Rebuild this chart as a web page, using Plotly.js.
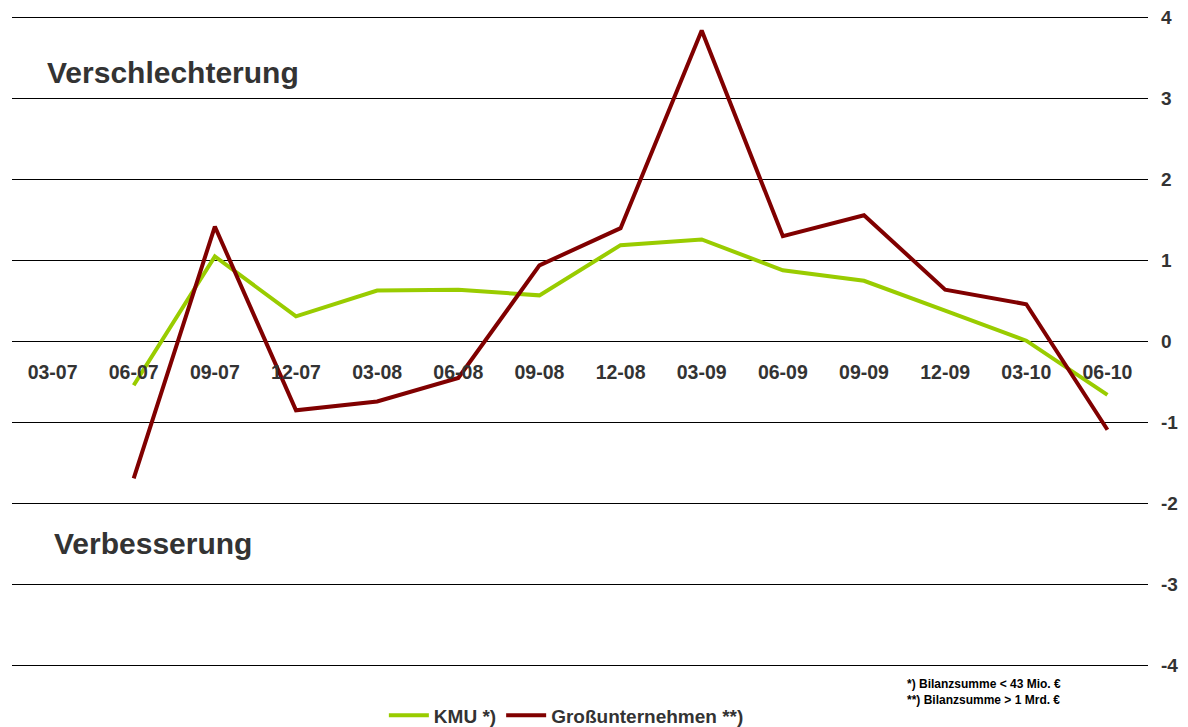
<!DOCTYPE html>
<html>
<head>
<meta charset="utf-8">
<script src="https://cdn.plot.ly/plotly-3.0.1.min.js"></script>
<style>html,body{margin:0;padding:0;background:#fff;}#chart{width:1188px;height:727px;}</style>
</head>
<body>
<div id="chart"></div>
<script>
const quarters = ["03-07","06-07","09-07","12-07","03-08","06-08","09-08","12-08","03-09","06-09","09-09","12-09","03-10","06-10"];
const kmu = [null,-0.54,1.05,0.31,0.63,0.64,0.57,1.19,1.26,0.88,0.75,0.38,0.01,-0.66];
const gross = [null,-1.69,1.42,-0.85,-0.74,-0.45,0.94,1.40,3.84,1.30,1.56,0.64,0.46,-1.09];
const seriesNames = ["KMU *)","Großunternehmen **)"];
const yTicks = [-4,-3,-2,-1,0,1,2,3,4];
const footnotes = ["*) Bilanzsumme < 43 Mio. €","**) Bilanzsumme > 1 Mrd. €"];

const FONT = "Liberation Sans, Arial, sans-serif";
const traces = [
  {x: quarters, y: kmu, name: seriesNames[0], type: "scatter", mode: "lines",
   line: {color: "#99cc00", width: 4}, connectgaps: false},
  {x: quarters, y: gross, name: seriesNames[1], type: "scatter", mode: "lines",
   line: {color: "#800000", width: 4}, connectgaps: false}
];
const layout = {
  width: 1188, height: 727,
  margin: {l: 12, r: 40, t: 16, b: 60},
  paper_bgcolor: "#fff", plot_bgcolor: "#fff",
  font: {family: FONT, color: "#333"},
  showlegend: true,
  legend: {orientation: "h", x: 0.488, xanchor: "center", yref: "container", y: 0.016, yanchor: "middle",
    font: {family: FONT, size: 19, color: "#333", weight: "bold"}, itemwidth: 40, tracegroupgap: 0},
  xaxis: {type: "category", categoryorder: "array", categoryarray: quarters,
    range: [-0.5, 13.5], anchor: "free", position: 0.5, showgrid: false, showline: false,
    zeroline: false, ticks: "", ticklabelstandoff: 17,
    tickfont: {family: FONT, size: 19.5, color: "#333", weight: "bold"}, fixedrange: true},
  yaxis: {side: "right", range: [-4.02, 4.02], tickvals: yTicks, ticktext: yTicks.map(String),
    showgrid: true, gridcolor: "#000", gridwidth: 1, zeroline: true, zerolinecolor: "#000", zerolinewidth: 1,
    showline: false, ticks: "", ticklabelstandoff: 12,
    tickfont: {family: FONT, size: 19, color: "#333", weight: "bold"}},
  annotations: [
    {text: "Verschlechterung", xref: "paper", yref: "paper", x: 0.029, y: 0.913, xanchor: "left", yanchor: "middle",
     showarrow: false, font: {family: FONT, size: 30, color: "#333", weight: "bold"}},
    {text: "Verbesserung", xref: "paper", yref: "paper", x: 0.035, y: 0.189, xanchor: "left", yanchor: "middle",
     showarrow: false, font: {family: FONT, size: 30, color: "#333", weight: "bold"}},
    {text: footnotes.join("<br>"), xref: "paper", yref: "paper", x: 0.786, y: -0.012, xanchor: "left", yanchor: "top",
     align: "left", showarrow: false, font: {family: FONT, size: 12, color: "#000", weight: "bold"}}
  ]
};
Plotly.newPlot("chart", traces, layout, {displayModeBar: false, staticPlot: true});
</script>
</body>
</html>
